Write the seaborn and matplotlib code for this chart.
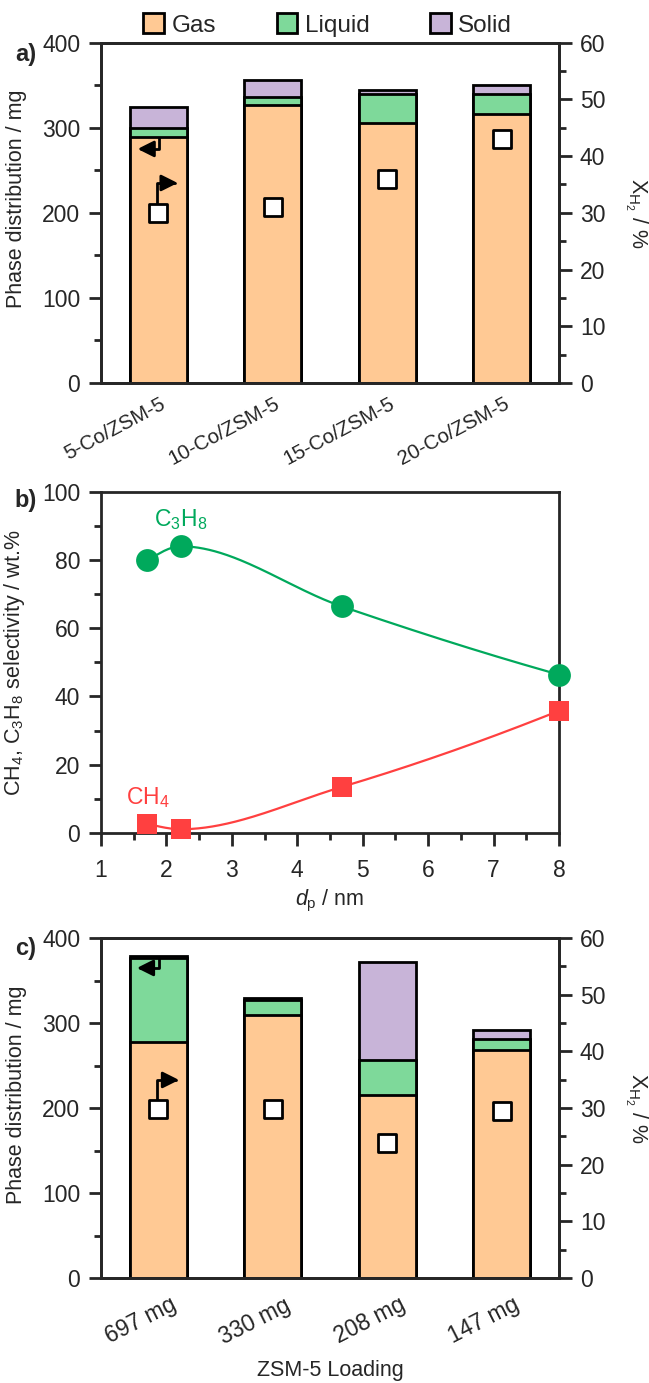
import numpy as np
import matplotlib
matplotlib.use("Agg")
import matplotlib.pyplot as plt
import matplotlib.transforms as mtrans
import seaborn as sns
from matplotlib.patches import Patch
from matplotlib.ticker import MultipleLocator

# a) Co loading
cat_a = ["5-Co/ZSM-5", "10-Co/ZSM-5", "15-Co/ZSM-5", "20-Co/ZSM-5"]
gas_a = [289, 327, 306, 316]
liq_a = [11, 9, 34, 24]
sol_a = [25, 20, 4, 10]
xh2_a = [30, 31, 36, 43]

# b) selectivity vs particle size
dp = [1.71, 2.22, 4.68, 8.0]
sel_c3h8 = [80.0, 84.0, 66.4, 46.4]
sel_ch4 = [2.7, 1.1, 13.5, 35.8]

# c) ZSM-5 loading
cat_c = ["697 mg", "330 mg", "208 mg", "147 mg"]
gas_c = [278, 310, 215, 268]
liq_c = [99, 17, 41, 13]
sol_c = [2, 2, 116, 11]
xh2_c = [29.8, 29.8, 23.9, 29.4]

c_gas = "#FFC994"
c_liq = "#7ED99A"
c_sol = "#C8B4D8"
c_green = "#00A95C"
c_red = "#FF4040"

FS = 16.5   # numbers, legend, annotations
FL = 15.5   # axis labels

sns.set_style("ticks")
plt.rcParams["font.family"] = ["Liberation Sans", "DejaVu Sans"]
plt.rcParams["font.size"] = FS
plt.rcParams["axes.labelsize"] = FL
plt.rcParams["mathtext.fontset"] = "custom"
plt.rcParams["mathtext.rm"] = "Liberation Sans"
plt.rcParams["mathtext.it"] = "Liberation Sans:italic"
plt.rcParams["mathtext.default"] = "regular"
plt.rcParams["axes.linewidth"] = 2

LW = 2


def pchip(x, y, num=300):
    # shape-preserving cubic through the measured points (smooth connector)
    x = np.asarray(x, float)
    y = np.asarray(y, float)
    n = len(x)
    h = np.diff(x)
    d = np.diff(y) / h
    m = np.zeros(n)
    for k in range(1, n - 1):
        if d[k - 1] * d[k] > 0:
            w1 = 2 * h[k] + h[k - 1]
            w2 = h[k] + 2 * h[k - 1]
            m[k] = (w1 + w2) / (w1 / d[k - 1] + w2 / d[k])
    for i, (a, b, ha, hb) in [(0, (d[0], d[1], h[0], h[1])), (-1, (d[-1], d[-2], h[-1], h[-2]))]:
        e = ((2 * ha + hb) * a - ha * b) / (ha + hb)
        if np.sign(e) != np.sign(a):
            e = 0
        elif np.sign(a) != np.sign(b) and abs(e) > abs(3 * a):
            e = 3 * a
        m[i] = e
    xs = np.linspace(x[0], x[-1], num)
    k = np.clip(np.searchsorted(x, xs) - 1, 0, n - 2)
    t = (xs - x[k]) / h[k]
    h00 = 2 * t**3 - 3 * t**2 + 1
    h10 = t**3 - 2 * t**2 + t
    h01 = -2 * t**3 + 3 * t**2
    h11 = t**3 - t**2
    ys = h00 * y[k] + h10 * h[k] * m[k] + h01 * y[k + 1] + h11 * h[k] * m[k + 1]
    return xs, ys


def style_axes(ax):
    for s in ax.spines.values():
        s.set_linewidth(LW)
        s.set_visible(True)
    ax.tick_params(which="major", direction="out", length=9, width=LW, pad=6, labelsize=FS)
    ax.tick_params(which="minor", direction="out", length=5, width=LW)


def bar_panel(ax, cats, gas, liq, sol, xh2, tick_dx, tick_pad, tick_fs, rot):
    tot = np.add(np.add(gas, liq), sol)
    gl = np.add(gas, liq)
    # stacked look: draw totals first, then cover with lower parts
    for h, c in [(tot, c_sol), (gl, c_liq), (gas, c_gas)]:
        sns.barplot(x=cats, y=h, ax=ax, color=c, width=0.5, saturation=1,
                    edgecolor="black", linewidth=LW)
    ax.set_xlim(-0.5, 3.5)
    ax.set_ylim(0, 400)
    ax.yaxis.set_major_locator(MultipleLocator(100))
    ax.yaxis.set_minor_locator(MultipleLocator(50))
    ax.set_ylabel("Phase distribution / mg")
    ax.yaxis.set_label_coords(-0.162, 0.54)
    style_axes(ax)
    ax.tick_params(axis="x", length=0, pad=tick_pad, labelsize=tick_fs)
    ax.tick_params(right=False, top=False)
    ax.set_xticks(range(len(cats)))
    ax.set_xticklabels(cats, rotation=rot, ha="right", rotation_mode="anchor")
    off = mtrans.ScaledTranslation(tick_dx / 72, 0, ax.figure.dpi_scale_trans)
    for lab in ax.get_xticklabels():
        lab.set_transform(lab.get_transform() + off)

    ax2 = ax.twinx()
    sns.scatterplot(x=np.arange(len(cats)), y=xh2, ax=ax2, marker="s", s=150,
                    color="white", edgecolor="black", linewidth=LW, zorder=5)
    ax2.set_ylim(0, 60)
    ax2.yaxis.set_major_locator(MultipleLocator(10))
    ax2.yaxis.set_minor_locator(MultipleLocator(5))
    ax2.set_ylabel("X$_{H_2}$ / %", rotation=270, va="bottom")
    ax2.yaxis.set_label_coords(1.14, 0.5)
    style_axes(ax2)
    ax2.set_xlim(-0.5, 3.5)
    return ax2


def axis_arrows(ax, ax2, y_left, y_mark, left_off, right_off):
    fig = ax.figure
    ap = dict(arrowstyle="<|-,head_length=0.6,head_width=0.3", color="black",
              lw=LW, shrinkA=0, shrinkB=0, connectionstyle="angle,angleA=0,angleB=90,rad=0")
    tr_left = mtrans.offset_copy(ax.transData, fig=fig, x=0.6, y=-0.5, units="points")
    ax.annotate("", xy=(0, y_left), xycoords=tr_left,
                xytext=left_off, textcoords="offset points", arrowprops=ap)
    tr_right = mtrans.offset_copy(ax2.transData, fig=fig, x=-1, y=7, units="points")
    ax2.annotate("", xy=(0, y_mark), xycoords=tr_right,
                 xytext=right_off, textcoords="offset points", arrowprops=ap)


fig = plt.figure(figsize=(6.49, 13.83), dpi=100)
L, W = 101 / 649, 458 / 649
ax_a = fig.add_axes([L, 1 - 383 / 1383, W, 340.3 / 1383])
ax_b = fig.add_axes([L, 1 - 833 / 1383, W, 341.3 / 1383])
ax_c = fig.add_axes([L, 1 - 1278 / 1383, W, 340 / 1383])

# panel a
ax2_a = bar_panel(ax_a, cat_a, gas_a, liq_a, sol_a, xh2_a, 1, 8, 14.8, 28)
axis_arrows(ax_a, ax2_a, gas_a[0], xh2_a[0], (-15.5, -8), (15, 14.5))

# panel b
for yv, col, mk, sz in [(sel_c3h8, c_green, "o", 270), (sel_ch4, c_red, "s", 200)]:
    xs, ys = pchip(dp, yv)
    sns.lineplot(x=xs, y=ys, ax=ax_b, color=col, linewidth=1.6, sort=False, zorder=2)
    sns.scatterplot(x=dp, y=yv, ax=ax_b, color=col, marker=mk, s=sz, linewidth=0, zorder=3)
ax_b.set_xlim(1, 8)
ax_b.set_ylim(0, 100)
ax_b.xaxis.set_major_locator(MultipleLocator(1))
ax_b.xaxis.set_minor_locator(MultipleLocator(0.5))
ax_b.yaxis.set_major_locator(MultipleLocator(20))
ax_b.yaxis.set_minor_locator(MultipleLocator(10))
style_axes(ax_b)
ax_b.tick_params(which="both", top=False, right=False)
ax_b.tick_params(axis="x", pad=10)
for coll in ax_b.collections:
    coll.set_clip_on(False)
ax_b.set_xlabel("$\\mathit{d}_\\mathrm{p}$ / nm", labelpad=4)
ax_b.set_ylabel("CH$_4$, C$_3$H$_8$ selectivity / wt.%")
ax_b.yaxis.set_label_coords(-0.162, 0.5)
ax_b.annotate("C$_3$H$_8$", xy=(dp[1], sel_c3h8[1]), xytext=(0, 10), textcoords="offset points",
              ha="center", va="bottom", color=c_green, fontsize=FS)
ax_b.annotate("CH$_4$", xy=(dp[0], sel_ch4[0]), xytext=(0, 10), textcoords="offset points",
              ha="center", va="bottom", color=c_red, fontsize=FS)

# panel c
ax2_c = bar_panel(ax_c, cat_c, gas_c, liq_c, sol_c, xh2_c, 8, 11, 16.5, 27)
ax_c.set_xlabel("ZSM-5 Loading", va="center")
ax_c.xaxis.set_label_coords(0.5, -0.272)
axis_arrows(ax_c, ax2_c, np.sum([gas_c[0], liq_c[0], sol_c[0]]) - 2, xh2_c[0], (-16, -7), (16, 14))

# legend
handles = [Patch(facecolor=c, edgecolor="black", linewidth=LW, label=l)
           for c, l in [(c_gas, "Gas"), (c_liq, "Liquid"), (c_sol, "Solid")]]
fig.legend(handles=handles, loc="center", bbox_to_anchor=(0.505, 1 - 25 / 1383), ncol=3,
           frameon=False, handlelength=0.85, handleheight=0.85, handletextpad=0.3,
           columnspacing=2.5, borderpad=0, fontsize=17.5)

for lab, yy in [("a)", 54), ("b)", 500), ("c)", 948)]:
    fig.text(26 / 649, 1 - yy / 1383, lab, weight="bold", ha="center", va="center", fontsize=17)

fig.savefig("out.png", dpi=100)
